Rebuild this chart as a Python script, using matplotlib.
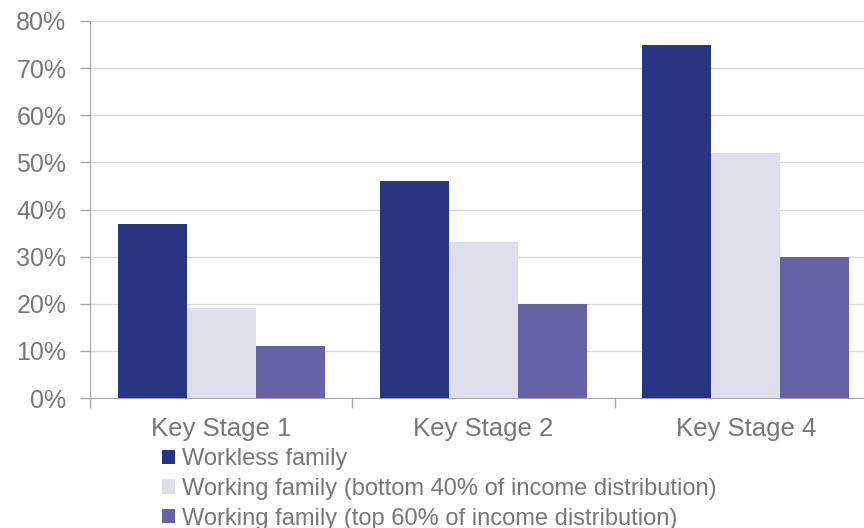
import matplotlib
matplotlib.use("Agg")
import matplotlib.pyplot as plt
from matplotlib.patches import Patch
import numpy as np

plt.rcParams['font.family'] = ['Liberation Sans', 'DejaVu Sans']

categories = ["Key Stage 1", "Key Stage 2", "Key Stage 4"]
series_names = ["Workless family",
                "Working family (bottom 40% of income distribution)",
                "Working family (top 60% of income distribution)"]
workless = [37, 46, 75]
bottom40 = [19, 33, 52]
top60 = [11, 20, 30]
yticks = [0, 10, 20, 30, 40, 50, 60, 70, 80]
colors = ["#283583", "#DFDFEC", "#6662A6"]

fig = plt.figure(figsize=(8.64, 5.28), dpi=100)
ax = fig.add_axes([90/864, (528-398)/528, (877-90)/864, (398-21)/528])

x = np.arange(len(categories))
w = 0.263
for i, (vals, col) in enumerate(zip([workless, bottom40, top60], colors)):
    ax.bar(x + (i - 1) * w, vals, width=w, color=col, zorder=3)

ax.set_xlim(-0.5, len(categories) - 0.5)
ax.set_ylim(0, 80)
ax.set_yticks(yticks)
ax.set_yticklabels([f"{t}%" for t in yticks])
ax.set_xticks(x)
ax.set_xticklabels(categories)
ax.set_xticks(np.arange(len(categories) + 1) - 0.5, minor=True)
ax.tick_params(axis='x', which='major', length=0, labelsize=18.5, labelcolor="#777777", pad=14)
ax.tick_params(axis='x', which='minor', length=7, color="#A6A6A6", width=1)
ax.tick_params(axis='y', length=7, color="#A6A6A6", width=1, labelsize=18, labelcolor="#777777", pad=10)
ax.grid(axis='y', color="#D9D9D9", linewidth=1, zorder=0)
for s in ['top', 'right']:
    ax.spines[s].set_visible(False)
for s in ['left', 'bottom']:
    ax.spines[s].set_color("#A6A6A6")

handles = [Patch(facecolor=c, edgecolor='none') for c in colors]
leg = fig.legend(handles, series_names, loc='upper left', bbox_to_anchor=(162/864, 1 - 448/528),
                 frameon=False, fontsize=17, handlelength=0.55, handleheight=0.55,
                 handletextpad=0.3, labelspacing=0.33, borderaxespad=0, borderpad=0)
for t in leg.get_texts():
    t.set_color("#777777")

fig.savefig("out.png", dpi=100)
